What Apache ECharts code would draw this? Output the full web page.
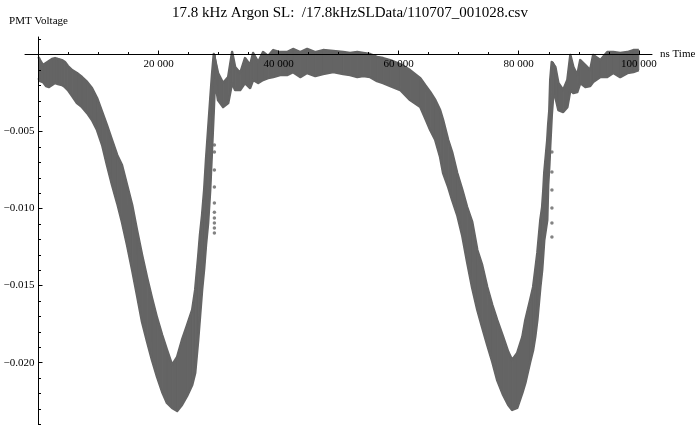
<!DOCTYPE html>
<html>
<head>
<meta charset="utf-8">
<script src="https://cdn.jsdelivr.net/npm/echarts@6/dist/echarts.min.js"></script>
<style>
  html, body { margin: 0; padding: 0; background: #fff; }
  #chart { width: 700px; height: 425px; }
</style>
</head>
<body>
<div id="chart"></div>
<script>
const timeNs = [
  0, 250, 750, 1250, 1750, 2250, 2750, 3250, 3900, 4400, 4900, 5600, 6400, 7250, 8100, 8900,
  9750, 10600, 11400, 12250, 13100, 13900, 14750, 15600, 16400, 17250, 18100, 18900, 19750,
  20600, 21400, 22250, 23100, 23900, 24750, 25600, 26100, 26600, 26900, 27250, 27600, 27900,
  28250, 28600, 28900, 29200, 29400, 29900, 30750, 31600, 32250, 32750, 33600, 34400, 35250,
  35750, 36600, 37400, 38250, 39100, 40250, 41400, 42400, 43600, 44750, 46100, 47400, 49100,
  50750, 51900, 53100, 54100, 55250, 56400, 57400, 58600, 60250, 61900, 63600, 64400, 65250,
  66100, 66900, 67400, 68250, 68900, 69750, 70600, 71400, 72250, 73100, 73900, 74750, 75600,
  76400, 77400, 78250, 78900, 79750, 80600, 81100, 81900, 82400, 82750, 83100, 83600, 83900,
  84100, 84250, 84750, 84900, 85100, 85250, 85500, 85750, 86100, 86600, 87400, 88100, 88600,
  89100, 89750, 90250, 91100, 91900, 92400, 93600, 94750, 95750, 96900, 98100, 99100, 100000
];
const upperV = [
  -0.00016, -0.00036, -0.00068, -0.00055, -0.00042, -0.00029, -0.00023, -0.00029, -0.00036,
  -0.00049, -0.00075, -0.00101, -0.00120, -0.00146, -0.00178, -0.00217,
  -0.00282, -0.00373, -0.00458, -0.00555, -0.00652, -0.00717, -0.00847, -0.00977, -0.01139,
  -0.01301, -0.01451, -0.01580, -0.01710,
  -0.01821, -0.01917, -0.02015, -0.01963, -0.01853, -0.01756, -0.01658, -0.01528, -0.01314,
  -0.01171, -0.01042, -0.00879, -0.00685,
  -0.00490, -0.00295, -0.00133, 0.00003, -0.00003, -0.00120, -0.00185, -0.00146, 0.00016,
  -0.00081, -0.00120, -0.00023, -0.00068,
  0.00010, -0.00049, 0.00016, -0.00010, 0.00029, 0.00016, 0.00016, 0.00036, 0.00016, 0.00036,
  0.00016, 0.00029, 0.00023,
  0.00016, 0.00010, 0.00016, 0.00010, 0.00003, -0.00016, -0.00023, -0.00036, -0.00062,
  -0.00101, -0.00153, -0.00198, -0.00243,
  -0.00295, -0.00360, -0.00425, -0.00555, -0.00633, -0.00769, -0.00879, -0.00990, -0.01087,
  -0.01269, -0.01366, -0.01509, -0.01626,
  -0.01723, -0.01833, -0.01930, -0.01983, -0.01937, -0.01833, -0.01723, -0.01593, -0.01509,
  -0.01399, -0.01288, -0.01074, -0.00990,
  -0.00879, -0.00769, -0.00555, -0.00458, -0.00360, -0.00165, -0.00049, -0.00049, -0.00081,
  -0.00185, -0.00230, -0.00165, -0.00003,
  -0.00081, -0.00133, -0.00036, -0.00068, -0.00101, -0.00003, -0.00036, 0.00016, 0.00016,
  0.00010, 0.00016, 0.00029, 0.00029
];
const lowerV = [
  -0.00153, -0.00172, -0.00178, -0.00204, -0.00211, -0.00198, -0.00185, -0.00191, -0.00198,
  -0.00211, -0.00230, -0.00269, -0.00315, -0.00341, -0.00380, -0.00425,
  -0.00490, -0.00587, -0.00717, -0.00847, -0.00964, -0.01087, -0.01236, -0.01399, -0.01561,
  -0.01736, -0.01866, -0.01983, -0.02093,
  -0.02190, -0.02262, -0.02294, -0.02314, -0.02275, -0.02216, -0.02145, -0.02067, -0.01853,
  -0.01704, -0.01528, -0.01386, -0.01236,
  -0.01094, -0.00879, -0.00620, -0.00360, -0.00165, -0.00295, -0.00341, -0.00315, -0.00185,
  -0.00230, -0.00230, -0.00185, -0.00217,
  -0.00165, -0.00185, -0.00165, -0.00153, -0.00146, -0.00133, -0.00133, -0.00114, -0.00146,
  -0.00120, -0.00140, -0.00127, -0.00114,
  -0.00127, -0.00133, -0.00146, -0.00140, -0.00146, -0.00172, -0.00185, -0.00204, -0.00230,
  -0.00295, -0.00341, -0.00412, -0.00490,
  -0.00555, -0.00665, -0.00769, -0.00860, -0.00944, -0.01042, -0.01178, -0.01347, -0.01515,
  -0.01658, -0.01769, -0.01885, -0.01996,
  -0.02113, -0.02210, -0.02275, -0.02307, -0.02294, -0.02197, -0.02132, -0.01996, -0.01917,
  -0.01833, -0.01723, -0.01509, -0.01399,
  -0.01288, -0.01204, -0.01074, -0.00847, -0.00717, -0.00587, -0.00393, -0.00263, -0.00276,
  -0.00360, -0.00373, -0.00341, -0.00230,
  -0.00250, -0.00243, -0.00185, -0.00211, -0.00204, -0.00178, -0.00146, -0.00146, -0.00120,
  -0.00146, -0.00120, -0.00114, -0.00101
];
// sparse points just right of the two rising edges
const strayTime = [29300, 29300, 29300, 29300, 29300, 29300, 29300, 29300, 29300, 29300,
  85530, 85530, 85530, 85530, 85530, 85530];
const strayV = [-0.00587, -0.00633, -0.00750, -0.00860, -0.00964, -0.01023, -0.01061, -0.01094, -0.01126, -0.01159,
  -0.00633, -0.00763, -0.00879, -0.00996, -0.01094, -0.01185];

const xMajor = [20000, 40000, 60000, 80000, 100000];
const xMinor = [5000, 10000, 15000, 25000, 30000, 35000, 45000, 50000, 55000, 65000, 70000, 75000, 85000, 90000, 95000];
const yMajor = [-0.020, -0.015, -0.010, -0.005];
const yMinor = [0.001, -0.001, -0.002, -0.003, -0.004, -0.006, -0.007, -0.008, -0.009, -0.011, -0.012, -0.013,
  -0.014, -0.016, -0.017, -0.018, -0.019, -0.021, -0.022, -0.023, -0.024];

const gray = '#646464';
const font = 'Liberation Serif';
const W = 700, H = 425;
const X_MIN = -2250, X_MAX = 102200, Y_MIN = -0.02405, Y_MAX = 0.00114;
const G_LEFT = 25, G_RIGHT = 48, G_TOP = 37;

// the axes cross at (0, 0); tick labels sit on a second grid whose edges are those zero lines
const zeroX = G_LEFT + (0 - X_MIN) / (X_MAX - X_MIN) * (W - G_LEFT - G_RIGHT);
const zeroY = G_TOP + (Y_MAX - 0) / (Y_MAX - Y_MIN) * (H - G_TOP);

const chart = echarts.init(document.getElementById('chart'));

const fmtX = v => {
  const s = String(Math.round(v));
  return s.length > 3 ? s.slice(0, -3) + ' ' + s.slice(-3) : s;
};
const fmtY = v => (v < 0 ? '\u2212' : '') + Math.abs(v).toFixed(3);

// filled strip between the two envelopes, one quad per gap between samples
const bandItem = (params, api) => {
  const i = params.dataIndex;
  if (i >= timeNs.length - 1) return null;
  const pts = [
    api.coord([timeNs[i], upperV[i]]),
    api.coord([timeNs[i + 1], upperV[i + 1]]),
    api.coord([timeNs[i + 1], lowerV[i + 1]]),
    api.coord([timeNs[i], lowerV[i]])
  ];
  return {
    type: 'polygon',
    shape: { points: pts },
    style: { fill: gray, stroke: gray, lineWidth: 1 }
  };
};

const tickLine = { color: '#000', width: 1 };
const labelText = { fontFamily: font, fontSize: 11, color: '#000' };

const option = {
  animation: false,
  title: {
    text: '17.8 kHz Argon SL:  /17.8kHzSLData/110707_001028.csv',
    left: 'center',
    top: 1,
    textStyle: { fontFamily: font, fontSize: 15, fontWeight: 'normal', color: '#000' }
  },
  grid: [
    { left: G_LEFT, right: G_RIGHT, top: G_TOP, bottom: 0, outerBoundsMode: 'none' },
    { left: zeroX, right: G_RIGHT, top: zeroY, bottom: 0, outerBoundsMode: 'none' }
  ],
  xAxis: [
    {
      gridIndex: 0, type: 'value', min: X_MIN, max: X_MAX, position: 'bottom', z: 10,
      name: 'ns Time', nameLocation: 'end', nameGap: 8, nameTextStyle: labelText,
      axisLine: { onZero: true, onZeroAxisIndex: 0, lineStyle: tickLine },
      axisTick: { inside: true, length: 4, customValues: xMajor, lineStyle: tickLine },
      axisLabel: { show: false },
      splitLine: { show: false }
    },
    {
      gridIndex: 0, type: 'value', min: X_MIN, max: X_MAX, position: 'bottom', z: 10,
      axisLine: { show: false, onZero: true, onZeroAxisIndex: 0 },
      axisTick: { inside: true, length: 2.5, customValues: xMinor, lineStyle: tickLine },
      axisLabel: { show: false },
      splitLine: { show: false }
    },
    {
      gridIndex: 1, type: 'value', min: 0, max: X_MAX, position: 'top', z: 10,
      axisLine: { show: false, onZero: false },
      axisTick: { show: false },
      axisLabel: { inside: true, customValues: xMajor, formatter: fmtX, margin: 4, ...labelText },
      splitLine: { show: false }
    }
  ],
  yAxis: [
    {
      gridIndex: 0, type: 'value', min: Y_MIN, max: Y_MAX, position: 'left', z: 10,
      name: 'PMT Voltage', nameLocation: 'end', nameGap: 10, nameTextStyle: labelText,
      axisLine: { onZero: true, onZeroAxisIndex: 0, lineStyle: tickLine },
      axisTick: { inside: true, length: 4, customValues: yMajor, lineStyle: tickLine },
      axisLabel: { show: false },
      splitLine: { show: false }
    },
    {
      gridIndex: 0, type: 'value', min: Y_MIN, max: Y_MAX, position: 'left', z: 10,
      axisLine: { show: false, onZero: true, onZeroAxisIndex: 0 },
      axisTick: { inside: true, length: 2.5, customValues: yMinor, lineStyle: tickLine },
      axisLabel: { show: false },
      splitLine: { show: false }
    },
    {
      gridIndex: 1, type: 'value', min: Y_MIN, max: 0, position: 'left', z: 10,
      axisLine: { show: false, onZero: false },
      axisTick: { show: false },
      axisLabel: { customValues: yMajor, formatter: fmtY, margin: 4, ...labelText },
      splitLine: { show: false }
    }
  ],
  series: [
    {
      name: 'band', type: 'custom', xAxisIndex: 0, yAxisIndex: 0,
      renderItem: bandItem,
      data: timeNs.map((t, i) => [t, upperV[i], lowerV[i]]),
      encode: { x: 0, y: [1, 2] }
    },
    {
      name: 'upper', type: 'line', xAxisIndex: 0, yAxisIndex: 0, symbol: 'none',
      lineStyle: { color: gray, width: 2.5, join: 'round' },
      data: timeNs.map((t, i) => [t, upperV[i]])
    },
    {
      name: 'lower', type: 'line', xAxisIndex: 0, yAxisIndex: 0, symbol: 'none',
      lineStyle: { color: gray, width: 2.5, join: 'round' },
      data: timeNs.map((t, i) => [t, lowerV[i]])
    },
    {
      name: 'stray', type: 'scatter', xAxisIndex: 0, yAxisIndex: 0,
      symbolSize: 3.5, itemStyle: { color: gray },
      data: strayTime.map((t, i) => [t, strayV[i]])
    }
  ]
};

chart.setOption(option);
</script>
</body>
</html>
